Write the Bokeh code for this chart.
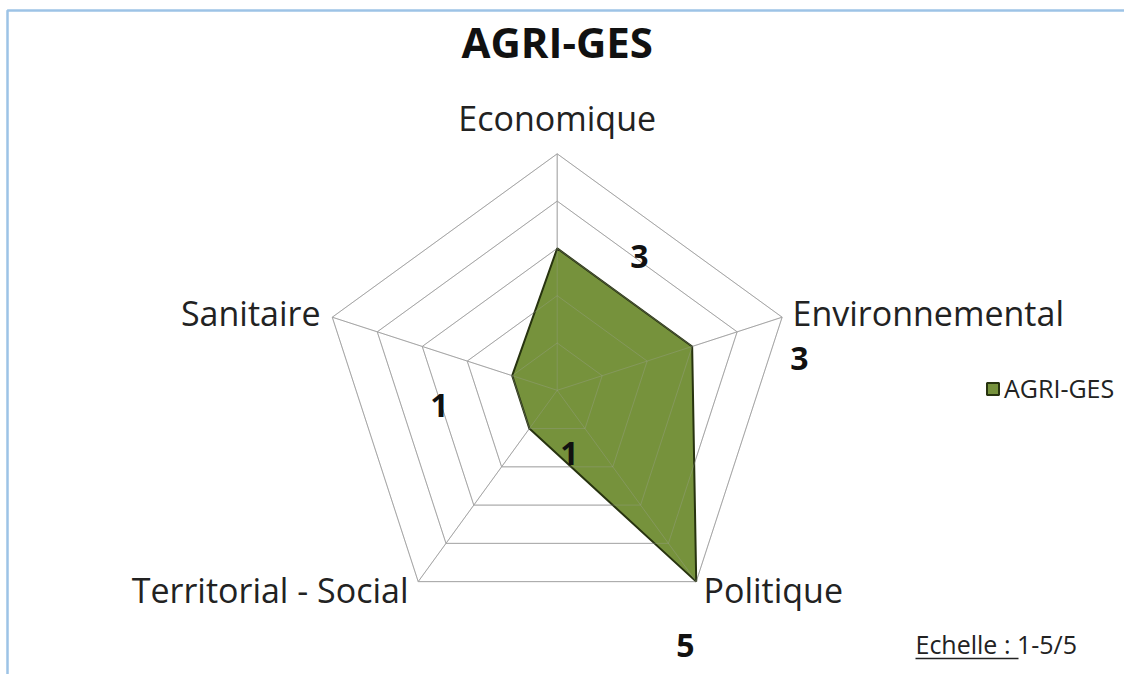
import numpy as np
from bokeh.plotting import figure
from bokeh.models import Range1d, Legend, LegendItem
from bokeh.core.properties import value
from bokeh.embed import file_html
from bokeh.resources import INLINE

# ---- data ----
title_text = "AGRI-GES"
categories = ["Economique", "Environnemental", "Politique", "Territorial - Social", "Sanitaire"]
scores = [3, 3, 5, 1, 1]
ring_levels = [1, 2, 3, 4, 5]
series_name = "AGRI-GES"
score_labels = ["3", "3", "5", "1", "1"]
scale_label = "Echelle :"
scale_value = "1-5/5"

# ---- geometry (page pixels) ----
W, H = 1124, 674
CX, CY = 556.7, 389.8
R = 236.5
S = R / max(ring_levels)

def P(X, Y):
    return (X - CX) / S, (CY - Y) / S

def T(X, Y, fs):
    # baseline position compensated for text anchor rendering
    return P(X, Y - 0.37 * fs)

FONT = value("Open Sans")

p = figure(width=W, height=H, output_backend="svg", toolbar_location=None,
           x_range=Range1d(-CX / S, (W - CX) / S), y_range=Range1d(-(H - CY) / S, CY / S),
           x_axis_type=None, y_axis_type=None, min_border=0,
           outline_line_color=None, background_fill_color="white", border_fill_color="white")
p.grid.visible = False

n = len(categories)
ang = np.deg2rad(90 - 72 * np.arange(n))
outer = max(ring_levels)
ring_xs = [list(np.append(lv * np.cos(ang), lv * np.cos(ang[0]))) for lv in ring_levels]
ring_ys = [list(np.append(lv * np.sin(ang), lv * np.sin(ang[0]))) for lv in ring_levels]
sp_x1 = list(outer * np.cos(ang))
sp_y1 = list(outer * np.sin(ang))

# grid (under)
p.multi_line(ring_xs, ring_ys, line_color="#a6a6a6", line_width=1)
p.segment(x0=[0] * n, y0=[0] * n, x1=sp_x1, y1=sp_y1, line_color="#a6a6a6", line_width=1)

# data polygon
vx = list(np.array(scores) * np.cos(ang))
vy = list(np.array(scores) * np.sin(ang))
poly = p.patch(vx, vy, fill_color="#76923c", fill_alpha=1.0, line_color="#27330f", line_width=2)

# faint grid showing through the fill
p.multi_line(ring_xs, ring_ys, line_color="#a6a6a6", line_width=1, line_alpha=0.3)
p.segment(x0=[0] * n, y0=[0] * n, x1=sp_x1, y1=sp_y1, line_color="#a6a6a6", line_width=1, line_alpha=0.3)

# chart-area border (top and left edges)
y0 = p.y_range.start
x1 = p.x_range.end
bx, by = P(7, 10)
p.line([bx, bx, x1], [y0, by, by], line_color="#9dc3e6", line_width=2.5)

# title
fs = 42
tx, ty = T(556.7, 57, fs)
p.text([tx], [ty], text=[title_text], text_font=FONT, text_font_style="bold",
       text_font_size=f"{fs}px", text_align="center", text_baseline="alphabetic", text_color="#111111")

# category labels
fs = 34
cat_pos = [(556.7, 130, "center"), (792, 325, "left"), (703, 602, "left"),
           (408, 602, "right"), (320, 325, "right")]
for c, (X, Y, al) in zip(categories, cat_pos):
    lx, ly = T(X, Y, fs)
    p.text([lx], [ly], text=[c], text_font=FONT, text_font_size=f"{fs}px",
           text_align=al, text_baseline="alphabetic", text_color="#222222")

# value labels
fs = 32
val_pos = [(639, 268), (799, 370), (685, 657), (569, 465), (439, 417)]
for s, (X, Y) in zip(score_labels, val_pos):
    lx, ly = T(X, Y, fs)
    p.text([lx], [ly], text=[s], text_font=FONT, text_font_style="bold", text_font_size=f"{fs}px",
           text_align="center", text_baseline="alphabetic", text_color="#111111")

# scale note
fs = 25
ex, ey = T(915, 653, fs)
p.text([ex], [ey], text=[scale_label + " " + scale_value], text_font=FONT, text_font_size=f"{fs}px",
       text_align="left", text_baseline="alphabetic", text_color="#222222")
ux0, uy = P(915, 658)
ux1, _ = P(1018, 658)
p.segment(x0=[ux0], y0=[uy], x1=[ux1], y1=[uy], line_color="#222222", line_width=1.5)

# legend
legend = Legend(items=[LegendItem(label=series_name, renderers=[poly])],
                location=(985, 269), padding=0, margin=0, spacing=0,
                glyph_width=15, glyph_height=15, label_standoff=4,
                label_text_font="Open Sans", label_text_font_size="25px",
                label_text_color="#222222", border_line_color=None,
                background_fill_alpha=0)
p.add_layout(legend, "center")

open("out.html", "w").write(file_html(p, INLINE))
